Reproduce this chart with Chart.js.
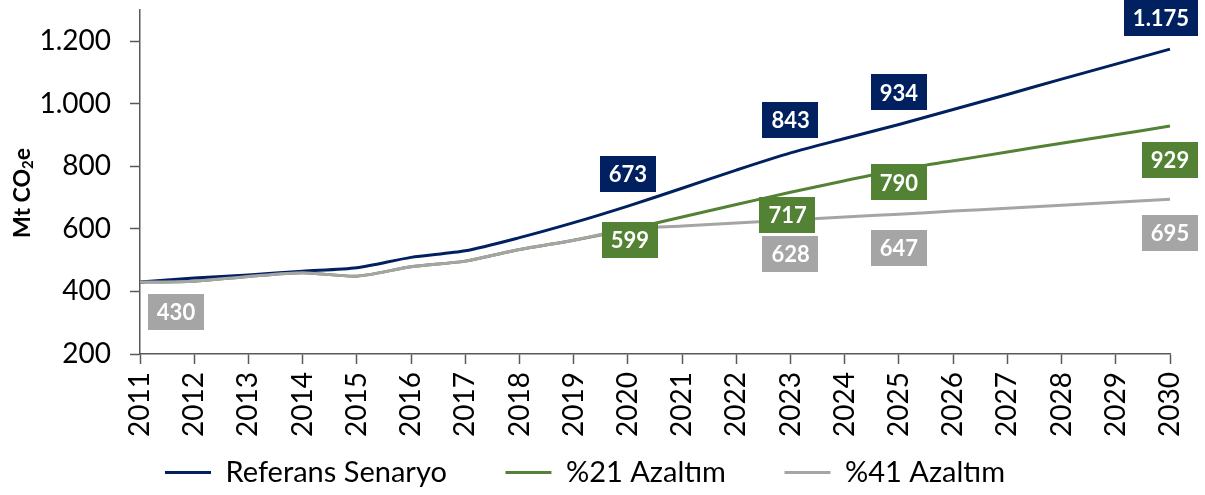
<!DOCTYPE html>
<html>
<head>
<meta charset="utf-8">
<script src="https://cdn.jsdelivr.net/npm/chart.js@4"></script>
<style>
  html, body { margin: 0; padding: 0; background: #fff; }
  #wrap { width: 1205px; height: 495px; }
</style>
</head>
<body>
<div id="wrap"><canvas id="chart" width="1205" height="495"></canvas></div>
<script>
const years = ['2011','2012','2013','2014','2015','2016','2017','2018','2019','2020',
               '2021','2022','2023','2024','2025','2026','2027','2028','2029','2030'];
const referans   = [430, 443, 453, 465, 476, 509, 530, 572, 620, 673, 730, 788, 843, 889, 934, 982, 1030, 1079, 1127, 1175];
const azaltim21  = [430, 433, 448, 460, 449, 479, 497, 534, 564, 599, 638, 678, 717, 754, 790, 818, 846, 874, 901, 929];
const azaltim41  = [430, 433, 448, 460, 449, 479, 497, 534, 564, 599, 609, 619, 628, 638, 647, 657, 666, 676, 685, 695];
const seriesNames = ['Referans Senaryo', '%21 Azaltım', '%41 Azaltım'];
const yTicks = [200, 400, 600, 800, 1000, 1200];

const colors = ['#002060', '#548235', '#A5A5A5'];

// which points get a value box, and where the box sits relative to the point
const boxLabels = [
  { series: 0, year: '2020', dx: 0,  dy: -32 },
  { series: 0, year: '2023', dx: 0,  dy: -33 },
  { series: 0, year: '2025', dx: 0,  dy: -32 },
  { series: 0, year: '2030', dx: -9, dy: -31 },
  { series: 1, year: '2020', dx: 2,  dy: 11 },
  { series: 1, year: '2023', dx: -3, dy: 23 },
  { series: 1, year: '2025', dx: 0,  dy: 13 },
  { series: 1, year: '2030', dx: 0,  dy: 34 },
  { series: 2, year: '2011', dx: 36, dy: 30 },
  { series: 2, year: '2023', dx: 0,  dy: 34 },
  { series: 2, year: '2025', dx: 0,  dy: 34 },
  { series: 2, year: '2030', dx: 0,  dy: 34 }
];

function fmt(v) {
  return String(v).replace(/\B(?=(\d{3})+(?!\d))/g, '.');
}

const boxLabelPlugin = {
  id: 'boxLabels',
  afterDatasetsDraw(chart) {
    const ctx = chart.ctx;
    ctx.save();
    ctx.font = 'bold 22px Lato';
    ctx.textAlign = 'center';
    ctx.textBaseline = 'middle';
    boxLabels.forEach(l => {
      const i = years.indexOf(l.year);
      const pt = chart.getDatasetMeta(l.series).data[i];
      const text = fmt(chart.data.datasets[l.series].data[i]);
      const w = ctx.measureText(text).width + 18;
      const h = 36;
      const cx = pt.x + l.dx;
      const cy = pt.y + l.dy;
      ctx.fillStyle = colors[l.series];
      ctx.fillRect(Math.round(cx - w / 2), Math.round(cy - h / 2), Math.round(w), h);
      ctx.fillStyle = '#ffffff';
      ctx.fillText(text, cx, cy + 1);
    });
    ctx.restore();
  }
};

// y title with a real subscript 2
const yTitlePlugin = {
  id: 'yTitle',
  afterDraw(chart) {
    const ctx = chart.ctx;
    const parts = [
      { t: 'Mt CO', f: 'bold 23px Lato', dy: 0 },
      { t: '2', f: 'bold 15px Lato', dy: 5 },
      { t: 'e', f: 'bold 23px Lato', dy: 0 }
    ];
    ctx.save();
    let total = 0;
    parts.forEach(p => { ctx.font = p.f; p.w = ctx.measureText(p.t).width; total += p.w; });
    ctx.translate(23, 193);
    ctx.rotate(-Math.PI / 2);
    ctx.fillStyle = '#000';
    ctx.textBaseline = 'middle';
    ctx.textAlign = 'left';
    let x = -total / 2;
    parts.forEach(p => {
      ctx.font = p.f;
      ctx.fillText(p.t, x, p.dy);
      x += p.w;
    });
    ctx.restore();
  }
};

const ctx = document.getElementById('chart').getContext('2d');
new Chart(ctx, {
  type: 'line',
  data: {
    labels: years,
    datasets: [
      { label: seriesNames[0], data: referans,  borderColor: colors[0], backgroundColor: colors[0], borderWidth: 3, order: 1 },
      { label: seriesNames[1], data: azaltim21, borderColor: colors[1], backgroundColor: colors[1], borderWidth: 3, order: 2 },
      { label: seriesNames[2], data: azaltim41, borderColor: colors[2], backgroundColor: colors[2], borderWidth: 3, order: 0 }
    ]
  },
  options: {
    responsive: false,
    animation: false,
    devicePixelRatio: 1,
    layout: { padding: { left: 0, top: 10, right: 35, bottom: -2 } },
    elements: {
      line: { tension: 0.25, fill: false },
      point: { radius: 0 }
    },
    scales: {
      x: {
        offset: false,
        grid: { display: true, drawOnChartArea: false, tickLength: 10, color: '#595959', tickWidth: 1.5 },
        border: { color: '#595959', width: 1.5 },
        ticks: {
          color: '#000',
          font: { family: 'Lato', size: 28 },
          minRotation: 90, maxRotation: 90,
          padding: 8,
          autoSkip: false
        },
        afterFit(scale) {
          scale.height = 90;
          scale.paddingLeft = 0;
          scale.paddingRight = 0;
        }
      },
      y: {
        min: 200, max: 1300,
        afterBuildTicks(scale) { scale.ticks = yTicks.map(v => ({ value: v })); },
        grid: { display: true, drawOnChartArea: false, tickLength: 10, color: '#595959', tickWidth: 1.5 },
        border: { color: '#595959', width: 1.5 },
        ticks: {
          color: '#000',
          font: { family: 'Lato', size: 28 },
          padding: 19,
          callback: v => fmt(v)
        },
        afterFit(scale) {
          scale.width = 140;
          scale.paddingTop = 0;
          scale.paddingBottom = 0;
        }
      }
    },
    plugins: {
      legend: {
        position: 'bottom',
        labels: {
          color: '#000',
          font: { family: 'Lato', size: 29 },
          usePointStyle: true,
          pointStyle: 'line',
          pointStyleWidth: 46,
          padding: 14,
          sort: (a, b) => a.datasetIndex - b.datasetIndex,
          generateLabels(chart) {
            const items = Chart.defaults.plugins.legend.labels.generateLabels(chart);
            // trailing no-break spaces widen the gap to the next entry
            items.forEach(it => { if (it.datasetIndex < seriesNames.length - 1) it.text += '\u00A0'.repeat(6); });
            return items;
          }
        }
      },
      tooltip: { enabled: false }
    }
  },
  plugins: [boxLabelPlugin, yTitlePlugin]
});
</script>
</body>
</html>
